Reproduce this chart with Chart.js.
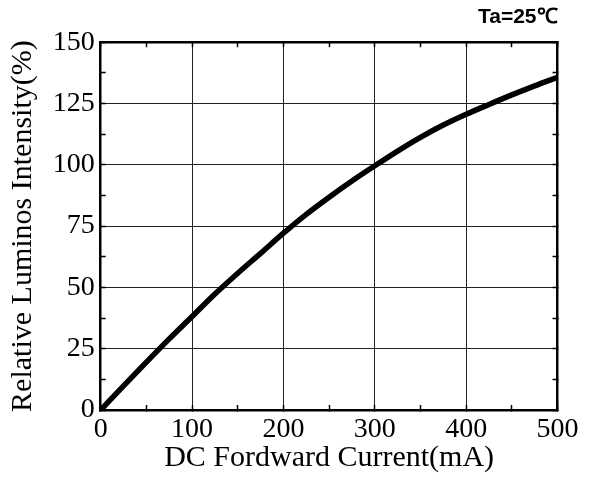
<!DOCTYPE html>
<html>
<head>
<meta charset="utf-8">
<script src="https://cdn.jsdelivr.net/npm/chart.js@4/dist/chart.umd.min.js"></script>
<style>
  html, body { margin: 0; padding: 0; background: #fff; }
  #wrap { width: 593px; height: 479px; }
</style>
</head>
<body>
<div id="wrap"><canvas id="my-chart"></canvas></div>
<script>
// values
const currents = [0, 25, 50, 75, 100, 125, 150, 175, 200, 225, 250, 275, 300, 325, 350, 375, 400, 425, 450, 475, 500]
const intensity = [0, 9.8, 19.5, 29, 38.1, 47.3, 55.8, 63.9, 72.1, 79.8, 86.8, 93.4, 99.6, 105.6, 111.2, 116.2, 120.6, 124.6, 128.5, 132.2, 135.7]
const xRange = [0, 500]
const yRange = [0, 150]
const xLabelStep = 100  // labelled ticks, minor ones every 50
const yLabelStep = 25   // labelled ticks, minor ones every 12.5

const serif = 'Liberation Serif, Times New Roman, serif'
const points = currents.map((c, i) => ({ x: c, y: intensity[i] }))

const ctx = document.getElementById('my-chart').getContext('2d')
const chart = new Chart(ctx, {
  type: 'line',
  data: {
    datasets: [
      {
        label: 'Relative Luminous Intensity',
        data: points,
        borderColor: '#000',
        borderWidth: 5.5,
        pointRadius: 0,
        cubicInterpolationMode: 'monotone',
        fill: false
      }
    ]
  },
  options: {
    responsive: true,
    maintainAspectRatio: false,
    animation: false,
    layout: { padding: { top: 0, right: 35.5, bottom: 0, left: 0 } },
    plugins: {
      legend: { display: false },
      tooltip: { enabled: false },
      title: {
        display: true,
        text: 'Ta=25℃',
        align: 'end',
        color: '#000',
        font: { family: 'Liberation Sans, Arial, sans-serif', size: 21, weight: 'bold' },
        padding: { top: 5, bottom: 12 }
      }
    },
    scales: {
      x: {
        type: 'linear',
        position: 'bottom',
        min: xRange[0],
        max: xRange[1],
        afterFit: (scale) => { scale.height = 69 },
        ticks: {
          stepSize: 50,
          maxTicksLimit: 20,
          autoSkip: false,
          maxRotation: 0,
          padding: 8,
          color: '#000',
          font: { family: serif, size: 28 },
          callback: (v) => (v % xLabelStep === 0 ? v : '')
        },
        grid: {
          color: (c) => (c.tick && c.tick.value % xLabelStep === 0 ? '#222' : 'rgba(0,0,0,0)'),
          lineWidth: 1,
          tickColor: '#000',
          tickLength: -5,
          tickWidth: 1.5
        },
        border: { color: '#000', width: 2.5 },
        title: {
          display: true,
          text: 'DC Fordward Current(mA)',
          color: '#000',
          font: { family: serif, size: 30 },
          padding: { top: 0, bottom: 3 }
        }
      },
      y: {
        type: 'linear',
        position: 'left',
        min: yRange[0],
        max: yRange[1],
        afterFit: (scale) => { scale.width = 100.7 },
        ticks: {
          stepSize: 12.5,
          maxTicksLimit: 20,
          autoSkip: false,
          padding: 11,
          color: '#000',
          font: { family: serif, size: 28 },
          callback: (v) => (v % yLabelStep === 0 ? v : '')
        },
        grid: {
          color: (c) => (c.tick && c.tick.value % yLabelStep === 0 ? '#222' : 'rgba(0,0,0,0)'),
          lineWidth: 1,
          tickColor: '#000',
          tickLength: -5,
          tickWidth: 1.5
        },
        border: { color: '#000', width: 2.5 },
        title: {
          display: true,
          text: 'Relative Luminos Intensity(%)',
          color: '#000',
          font: { family: serif, size: 30 },
          padding: { top: 5, bottom: 0 }
        }
      },
      x2: {
        type: 'linear',
        position: 'top',
        min: xRange[0],
        max: xRange[1],
        afterFit: (scale) => { scale.height = 0 },
        ticks: { display: false, stepSize: 50, maxTicksLimit: 20 },
        grid: { drawOnChartArea: false, tickColor: '#000', tickLength: -5, tickWidth: 1.5 },
        border: { color: '#000', width: 2.5 }
      },
      y2: {
        type: 'linear',
        position: 'right',
        min: yRange[0],
        max: yRange[1],
        afterFit: (scale) => { scale.width = 0 },
        ticks: { display: false, stepSize: 12.5, maxTicksLimit: 20 },
        grid: { drawOnChartArea: false, tickColor: '#000', tickLength: -5, tickWidth: 1.5 },
        border: { color: '#000', width: 2.5 }
      }
    }
  }
})
</script>
</body>
</html>
